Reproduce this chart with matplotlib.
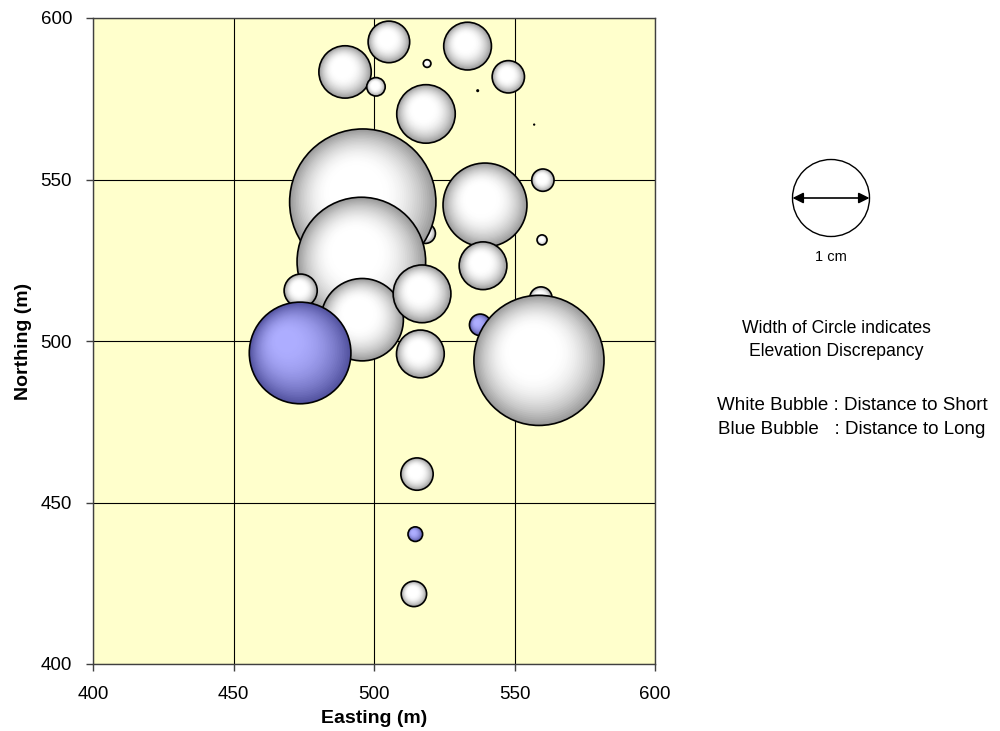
import numpy as np
import matplotlib
matplotlib.use("Agg")
import matplotlib.pyplot as plt
from matplotlib.transforms import ScaledTranslation
from matplotlib.patches import Circle

plt.rcParams['font.family'] = ['Liberation Sans', 'DejaVu Sans']

# ---------------- data ----------------
# White bubbles: distance to short (easting m, northing m, elevation discrepancy cm)
white_x = [505.3, 533.3, 489.7, 518.9, 500.7, 547.8, 518.5, 536.9, 557.0,
           560.1, 559.8, 518.3, 474.8, 496.0, 495.5, 539.5, 538.8, 473.9,
           495.8, 517.1, 516.5, 559.4, 558.7, 515.3, 514.2]
white_y = [592.6, 591.3, 583.3, 585.9, 578.7, 581.8, 570.3, 577.5, 567.0,
           549.8, 531.3, 533.3, 534.1, 543.0, 524.6, 542.1, 523.3, 515.6,
           506.6, 514.6, 496.0, 513.3, 494.0, 458.8, 421.7]
white_d = [0.54, 0.62, 0.68, 0.10, 0.24, 0.42, 0.76, 0.04, 0.03,
           0.29, 0.13, 0.26, 0.05, 1.90, 1.67, 1.09, 0.62, 0.43,
           1.07, 0.75, 0.62, 0.29, 1.69, 0.42, 0.33]
# Blue bubbles: distance to long
blue_x = [473.7, 537.8, 514.7]
blue_y = [496.3, 505.0, 440.2]
blue_d = [1.32, 0.28, 0.19]

n_white_below_blue = 21  # white bubbles drawn before the blue series

x_ticks = [400, 450, 500, 550, 600]
y_ticks = [400, 450, 500, 550, 600]

# ---------------- figure ----------------
W, H, DPI = 1000, 731, 100
fig = plt.figure(figsize=(W / DPI, H / DPI), dpi=DPI)
fig.patch.set_facecolor('white')
ax = fig.add_axes([93 / W, 1 - 664 / H, (655 - 93) / W, (664 - 18) / H])
ax.set_facecolor('#FFFFCC')

PX_PER_CM = 77.0  # legend circle (1 cm) diameter in pixels
PT_PER_PX = 72.0 / DPI


def draw_bubble(x, y, d, edge_rgb, center_rgb, hl, z, n=40, inner=0.65):
    diam = d * PX_PER_CM * PT_PER_PX
    R = diam / 2.0
    edge_rgb = np.array(edge_rgb)
    center_rgb = np.array(center_rgb)
    tiny = diam < 3.0
    ax.scatter([x], [y], s=diam ** 2, color='black' if tiny else edge_rgb,
               edgecolors='none', linewidths=0, zorder=z)
    if tiny:
        return
    for k in range(1, n):
        f = 1 - k / n
        t = min((1 - f) / inner, 1.0)
        t = 1 - (1 - t) ** 2
        col = edge_rgb + (center_rgb - edge_rgb) * t
        ox = (1 - f) * hl[0] * R / 72.0
        oy = (1 - f) * hl[1] * R / 72.0
        tr = ax.transData + ScaledTranslation(ox, oy, fig.dpi_scale_trans)
        ax.scatter([x], [y], s=(f * diam) ** 2, color=col, edgecolors='none',
                   linewidths=0, transform=tr, zorder=z)
    ax.scatter([x], [y], s=diam ** 2, facecolors='none', edgecolors='black',
               linewidths=1.2, zorder=z)


WHITE_EDGE = (0.60, 0.60, 0.60)
WHITE_CENTER = (1.0, 1.0, 1.0)
BLUE_EDGE = (0.32, 0.32, 0.62)
BLUE_CENTER = (0.68, 0.68, 1.0)

z = 3
for i in range(n_white_below_blue):
    draw_bubble(white_x[i], white_y[i], white_d[i], WHITE_EDGE, WHITE_CENTER, (-0.15, 0.22), z)
for i in range(len(blue_x)):
    draw_bubble(blue_x[i], blue_y[i], blue_d[i], BLUE_EDGE, BLUE_CENTER, (-0.35, 0.3), z, inner=0.85)
for i in range(n_white_below_blue, len(white_x)):
    draw_bubble(white_x[i], white_y[i], white_d[i], WHITE_EDGE, WHITE_CENTER, (-0.15, 0.22), z)

ax.set_xlim(400, 600)
ax.set_ylim(400, 600)
ax.set_xticks(x_ticks)
ax.set_yticks(y_ticks)
ax.grid(True, color='black', linewidth=0.8, zorder=1)
ax.set_axisbelow(True)
for s in ax.spines.values():
    s.set_color('#404040')
    s.set_linewidth(1.0)
ax.tick_params(direction='out', length=5, width=1, color='#404040',
               labelsize=13.5)
ax.tick_params(axis='x', pad=11)
ax.tick_params(axis='y', pad=10)
ax.set_xlabel('Easting (m)', fontsize=14, fontweight='bold', labelpad=5)
ax.set_ylabel('Northing (m)', fontsize=14, fontweight='bold', labelpad=6)

# ---------------- legend key ----------------
cx, cy, half = 831, 198, 50
lax = fig.add_axes([(cx - half) / W, 1 - (cy + half) / H, 2 * half / W, 2 * half / H])
lax.set_xlim(-half, half)
lax.set_ylim(-half, half)
lax.axis('off')
lax.add_patch(Circle((0, 0), 38.5, facecolor='white', edgecolor='black', linewidth=1.0))
lax.annotate('', xy=(38.5, 0), xytext=(-38.5, 0),
             arrowprops=dict(arrowstyle='<|-|>', color='black', lw=1.2,
                             shrinkA=0, shrinkB=0, mutation_scale=16))


def ftext(px, py, s, size):
    fig.text(px / W, 1 - py / H, s, ha='center', va='center', fontsize=size)


ftext(831, 257, '1 cm', 10.5)
ftext(836, 329, 'Width of Circle indicates', 12.7)
ftext(836, 352, 'Elevation Discrepancy', 12.7)
ftext(852, 406, 'White Bubble : Distance to Short', 13.5)
ftext(852, 429, 'Blue Bubble   : Distance to Long', 13.5)

fig.savefig('out.png', dpi=DPI)
